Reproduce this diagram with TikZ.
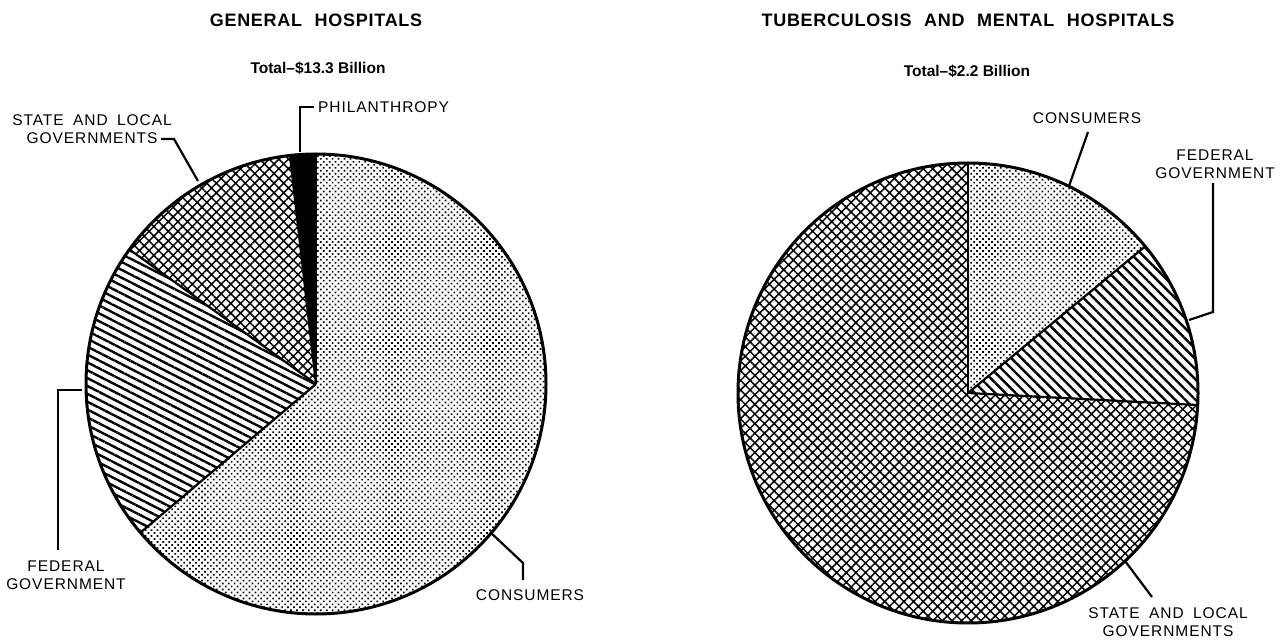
\documentclass[tikz,border=0pt]{standalone}
\usepackage{fontspec}
\setmainfont{Liberation Sans}
\newfontfamily\labfont[LetterSpace=6,WordSpace=1.8]{Liberation Sans}
\newfontfamily\titfont[LetterSpace=4,WordSpace=2.2]{Liberation Sans}
\usetikzlibrary{patterns.meta}
\begin{document}
\begin{tikzpicture}[x=1pt,y=1pt,
  lab/.style={font=\labfont\fontsize{15.5}{18}\selectfont, align=center, inner sep=0pt},
  ttl/.style={font=\titfont\bfseries\fontsize{18}{21}\selectfont, inner sep=0pt},
  tot/.style={font=\bfseries\fontsize{15.5}{18}\selectfont, inner sep=0pt},
  rim/.style={line width=3pt},
  divider/.style={line width=2.2pt},
  leader/.style={line width=2.2pt},
  dotfill/.style={pattern={Dots[distance=4.2pt, angle=45, radius=1.2pt]}},
  hatchfill/.style={pattern={Hatch[distance=6.8pt, angle=45, line width=1.5pt]}},
  linesL/.style={pattern={Lines[distance=7pt, angle=-27, line width=2.4pt]}},
  linesR/.style={pattern={Lines[distance=7.2pt, angle=-45, line width=2.4pt]}}
]
\useasboundingbox (0,0) rectangle (1287,640);
\fill[white] (0,0) rectangle (1287,640);

% ---------- Left pie ----------
\coordinate (L) at (316,256);
\begin{scope}[shift={(L)}]
  \fill[dotfill] (0,0) -- (-139.75:230pt) arc[start angle=-139.75, end angle=90, radius=230pt] -- cycle;
  \fill[black] (0,0) -- (90:230pt) arc[start angle=90, end angle=96.5, radius=230pt] -- cycle;
  \fill[hatchfill] (0,0) -- (96.5:230pt) arc[start angle=96.5, end angle=144.2, radius=230pt] -- cycle;
  \fill[linesL] (0,0) -- (144.2:230pt) arc[start angle=144.2, end angle=220.25, radius=230pt] -- cycle;
  \draw[divider] (0,0) -- (90:230pt);
  \draw[divider] (0,0) -- (96.5:230pt);
  \draw[divider] (0,0) -- (144.2:230pt);
  \draw[divider] (0,0) -- (220.25:230pt);
  \draw[rim] (0,0) circle[radius=230pt];
\end{scope}

\node[ttl] (t1) at (316,620) {GENERAL HOSPITALS};
\node[tot] (s1) at (318,572) {Total--\$13.3 Billion};

\node[lab, anchor=west] (phil) at (318,533) {PHILANTHROPY};
\coordinate (p1) at (300,533);
\coordinate (pe) at (300,488);
\draw[leader] ([xshift=-4pt]phil.west) -- (p1) -- (pe);

\node[lab] (sl1) at (92,511) {STATE AND LOCAL\\GOVERNMENTS};
\coordinate (s1a) at (161,501);
\coordinate (s1b) at (174,501);
\coordinate (s1e) at (198,459);
\draw[leader] (s1a) -- (s1b) -- (s1e);

\node[lab] (fg1) at (66,65) {FEDERAL\\GOVERNMENT};
\coordinate (f1a) at (58,90);
\coordinate (f1b) at (58,250);
\coordinate (f1e) at (82,250);
\draw[leader] (f1a) -- (f1b) -- (f1e);

\node[lab] (c1) at (530,45) {CONSUMERS};
\coordinate (c1a) at (523,60);
\coordinate (c1b) at (523,77);
\coordinate (c1e) at (490,108);
\draw[leader] (c1a) -- (c1b) -- (c1e);

% ---------- Right pie ----------
\coordinate (R) at (968,247);
\begin{scope}[shift={(R)}]
  \fill[dotfill] (0,0) -- (39.6:230pt) arc[start angle=39.6, end angle=90, radius=230pt] -- cycle;
  \fill[linesR] (0,0) -- (-3:230pt) arc[start angle=-3, end angle=39.6, radius=230pt] -- cycle;
  \fill[hatchfill] (0,0) -- (90:230pt) arc[start angle=90, end angle=357, radius=230pt] -- cycle;
  \draw[divider] (0,0) -- (90:230pt);
  \draw[divider] (0,0) -- (39.6:230pt);
  \draw[divider] (0,0) -- (-3:230pt);
  \draw[rim] (0,0) circle[radius=230pt];
\end{scope}

\node[ttl] (t2) at (968,620) {TUBERCULOSIS AND MENTAL HOSPITALS};
\node[tot] (s2) at (967,569) {Total--\$2.2 Billion};

\node[lab] (c2) at (1087,522) {CONSUMERS};
\coordinate (c2a) at (1088,508);
\coordinate (c2e) at (1069,454);
\draw[leader] (c2a) -- (c2e);

\node[lab] (fg2) at (1215,476) {FEDERAL\\GOVERNMENT};
\coordinate (f2a) at (1213,457);
\coordinate (f2b) at (1213,328);
\coordinate (f2e) at (1189,320);
\draw[leader] (f2a) -- (f2b) -- (f2e);

\node[lab] (sl2) at (1168,18) {STATE AND LOCAL\\GOVERNMENTS};
\coordinate (s2a) at (1152,43);
\coordinate (s2e) at (1125,79);
\draw[leader] (s2a) -- (s2e);
\end{tikzpicture}
\end{document}
